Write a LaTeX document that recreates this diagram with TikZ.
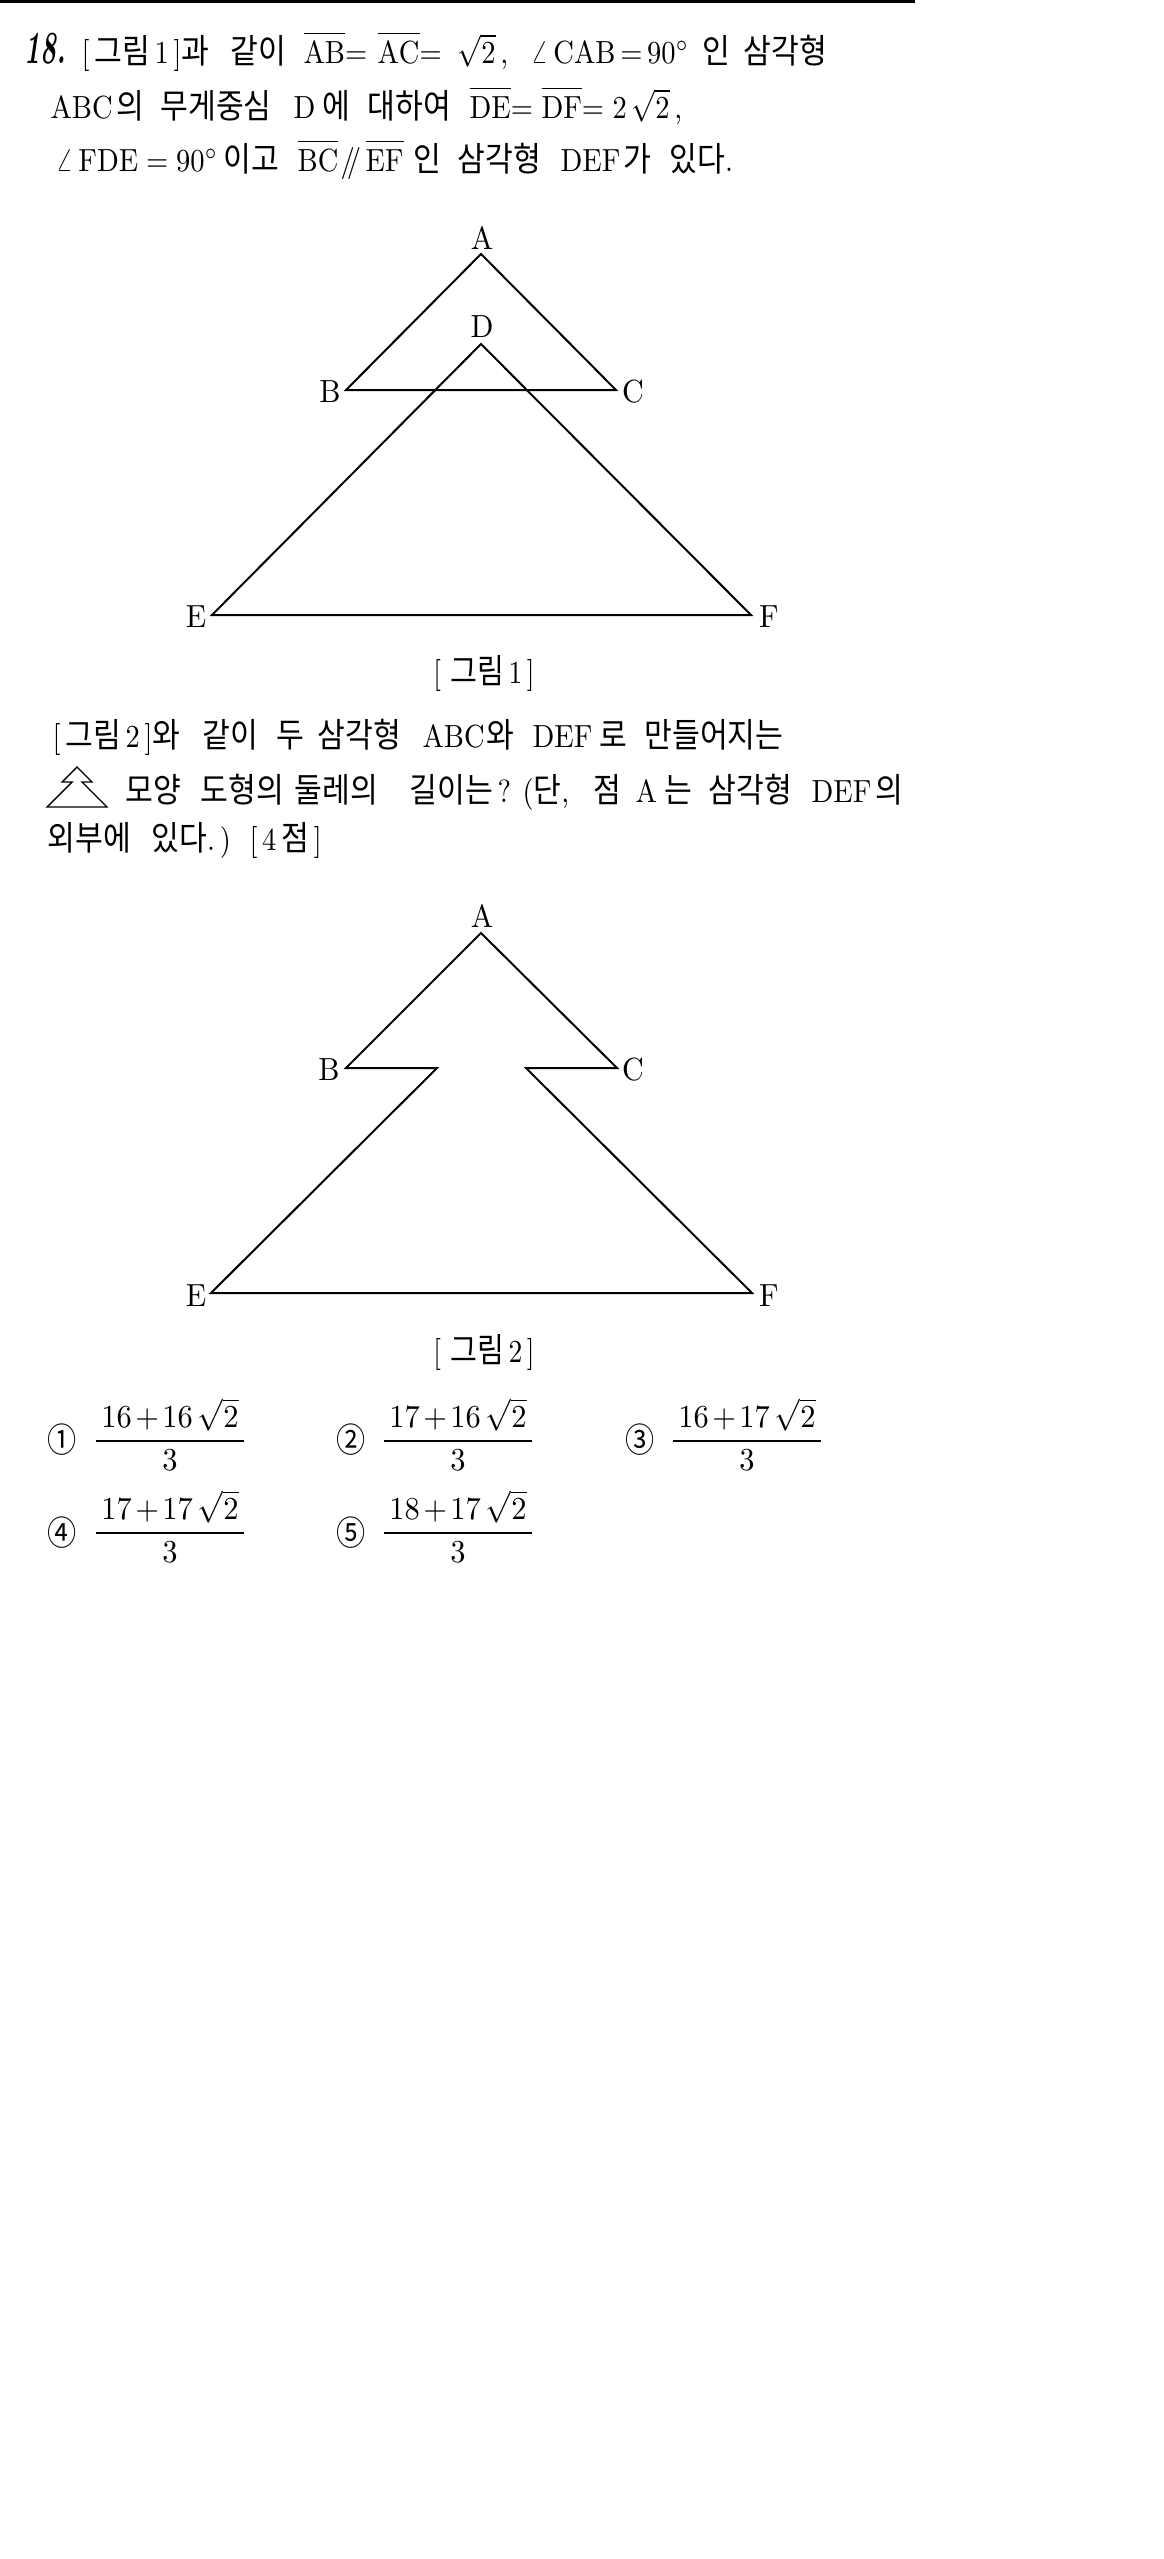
\documentclass[tikz,border=0pt]{standalone}
\usepackage{amsmath}
\usepackage{fontspec}
\newfontfamily\kr[Scale=1.06]{Noto Sans CJK KR}
\newcommand{\ovl}[1]{\overline{\mathrm{#1}\rule{0pt}{7.8pt}}}
\begin{document}
\begin{tikzpicture}[x=1pt,y=-1pt]
\tikzset{txt/.style = {anchor=base west,inner sep=0pt,xscale=2.85,yscale=3.2}}
\tikzset{vlabel/.style = {inner sep=0pt,xscale=3,yscale=3.2}}
\tikzset{capt/.style = {inner sep=0pt,xscale=2.75,yscale=3.2}}
\tikzset{fracnum/.style = {anchor=base,inner sep=0pt,xscale=3.05,yscale=3.2}}
\tikzset{edge/.style = {line width=2pt,line join=miter}}
\useasboundingbox (0,0) rectangle (1164,2559);
\coordinate (barl) at (0,1.5);
\coordinate (barr) at (915,1.5);
\draw[line width=3pt] (barl) -- (barr);
% question text
\node[anchor=base west,inner sep=0pt,xscale=2.7,yscale=4.6] (num) at (24,63) {\bfseries\itshape 18.};
\node[txt] (a1) at (81,63) {[\,{\kr 그림}\,1\,]{\kr 과}};
\node[txt] (a2) at (230,63) {\kr 같이};
\node[txt] (a3) at (303,63) {$\ovl{AB}{=}$};
\node[txt] (a4) at (377,63) {$\ovl{AC}{=}$};
\node[txt] (a5) at (457,63) {$\sqrt{2}$\,,};
\node[txt] (a6) at (530,63) {$\angle\,\mathrm{CAB}\mkern3mu{=}\mkern3mu 90^\circ$};
\node[txt] (a7) at (702,63) {\kr 인};
\node[txt] (a8) at (743,63) {\kr 삼각형};
\node[txt] (b1) at (50,118) {ABC};
\node[txt] (b2) at (116,118) {\kr 의};
\node[txt] (b3) at (160,118) {\kr 무게중심};
\node[txt] (b4) at (293,118) {D};
\node[txt] (b5) at (322,118) {\kr 에};
\node[txt] (b6) at (367,118) {\kr 대하여};
\node[txt] (b7) at (469,118) {$\ovl{DE}{=}$};
\node[txt] (b8) at (541,118) {$\ovl{DF}{=}$};
\node[txt] (b9) at (612,118) {$2\,\sqrt{2}$\,,};
\node[txt] (c1) at (55,171) {$\angle\,\mathrm{FDE}\mkern5mu{=}\mkern5mu 90^\circ$};
\node[txt] (c2) at (223,171) {\kr 이고};
\node[txt] (c3) at (297,171) {$\ovl{BC}$};
\node[txt] (c4) at (340,171) {$/\mkern-5mu/$};
\node[txt] (c5) at (365,171) {$\ovl{EF}$};
\node[txt] (c6) at (413,171) {\kr 인};
\node[txt] (c7) at (457,171) {\kr 삼각형};
\node[txt] (c8) at (560,171) {DEF};
\node[txt] (c9) at (623,171) {\kr 가};
\node[txt] (c10) at (669,171) {{\kr 있다}.};
% first figure
\coordinate (A1) at (481,254);
\coordinate (B1) at (346,390);
\coordinate (C1) at (616,390);
\coordinate (D1) at (481,344);
\coordinate (E1) at (212,615);
\coordinate (F1) at (751,615);
\draw[edge] (A1) -- (B1) -- (C1) -- cycle;
\draw[edge] (D1) -- (E1) -- (F1) -- cycle;
\node[vlabel] (la1) at (482,238) {A};
\node[vlabel] (ld1) at (482,327) {D};
\node[vlabel] (lb1) at (330,392) {B};
\node[vlabel] (lc1) at (633,392) {C};
\node[vlabel] (le1) at (196,617) {E};
\node[vlabel] (lf1) at (769,617) {F};
\node[capt] (cap1) at (484,673) {[\,\,{\kr 그림}\,1\,]};
% second paragraph
\node[txt] (d1) at (52,747) {[\,{\kr 그림}\,2\,]{\kr 와}};
\node[txt] (d2) at (202,747) {\kr 같이};
\node[txt] (d3) at (276,747) {\kr 두};
\node[txt] (d4) at (317,747) {\kr 삼각형};
\node[txt] (d5) at (422,747) {ABC};
\node[txt] (d6) at (486,747) {\kr 와};
\node[txt] (d7) at (532,747) {DEF};
\node[txt] (d8) at (599,747) {\kr 로};
\node[txt] (d9) at (644,747) {\kr 만들어지는};
\coordinate (t1) at (77,767);
\coordinate (t2) at (62,782);
\coordinate (t3) at (72,782);
\coordinate (t4) at (47,807);
\coordinate (t5) at (107,807);
\coordinate (t6) at (82,782);
\coordinate (t7) at (92,782);
\draw[line width=1.4pt] (t1) -- (t2) -- (t3) -- (t4) -- (t5) -- (t6) -- (t7) -- cycle;
\node[txt] (e1) at (125,802) {\kr 모양};
\node[txt] (e2) at (200,802) {\kr 도형의};
\node[txt] (e3) at (294,802) {\kr 둘레의};
\node[txt] (e4) at (409,802) {{\kr 길이는}\,?};
\node[txt] (e5) at (522,802) {({\kr 단},};
\node[txt] (e6) at (593,802) {\kr 점};
\node[txt] (e7) at (635,802) {A};
\node[txt] (e8) at (664,802) {\kr 는};
\node[txt] (e9) at (708,802) {\kr 삼각형};
\node[txt] (e10) at (811,802) {DEF};
\node[txt] (e11) at (875,802) {\kr 의};
\node[txt] (f1) at (47,850) {\kr 외부에};
\node[txt] (f2) at (151,850) {{\kr 있다}.\,)};
\node[txt] (f3) at (249,850) {[\,4\,{\kr 점}\,]};
% second figure
\coordinate (A2) at (481,933);
\coordinate (B2) at (346,1068);
\coordinate (P2) at (437,1068);
\coordinate (Q2) at (526,1068);
\coordinate (C2) at (617,1068);
\coordinate (E2) at (211,1293);
\coordinate (F2) at (752,1293);
\draw[edge] (A2) -- (B2) -- (P2) -- (E2) -- (F2) -- (Q2) -- (C2) -- cycle;
\node[vlabel] (la2) at (482,916) {A};
\node[vlabel] (lb2) at (329,1070) {B};
\node[vlabel] (lc2) at (633,1070) {C};
\node[vlabel] (le2) at (196,1296) {E};
\node[vlabel] (lf2) at (769,1296) {F};
\node[capt] (cap2) at (484,1352) {[\,\,{\kr 그림}\,2\,]};
% choices
\node[capt] (o1) at (62,1440) {\kr ①};
\node[fracnum] (v1) at (170,1449) {$\dfrac{\,16\mkern2mu{+}\mkern2mu16\,\sqrt{2}\,}{3}$};
\node[capt] (o2) at (351,1440) {\kr ②};
\node[fracnum] (v2) at (458,1449) {$\dfrac{\,17\mkern2mu{+}\mkern2mu16\,\sqrt{2}\,}{3}$};
\node[capt] (o3) at (640,1440) {\kr ③};
\node[fracnum] (v3) at (747,1449) {$\dfrac{\,16\mkern2mu{+}\mkern2mu17\,\sqrt{2}\,}{3}$};
\node[capt] (o4) at (62,1533) {\kr ④};
\node[fracnum] (v4) at (170,1541) {$\dfrac{\,17\mkern2mu{+}\mkern2mu17\,\sqrt{2}\,}{3}$};
\node[capt] (o5) at (351,1533) {\kr ⑤};
\node[fracnum] (v5) at (458,1541) {$\dfrac{\,18\mkern2mu{+}\mkern2mu17\,\sqrt{2}\,}{3}$};
\end{tikzpicture}
\end{document}
